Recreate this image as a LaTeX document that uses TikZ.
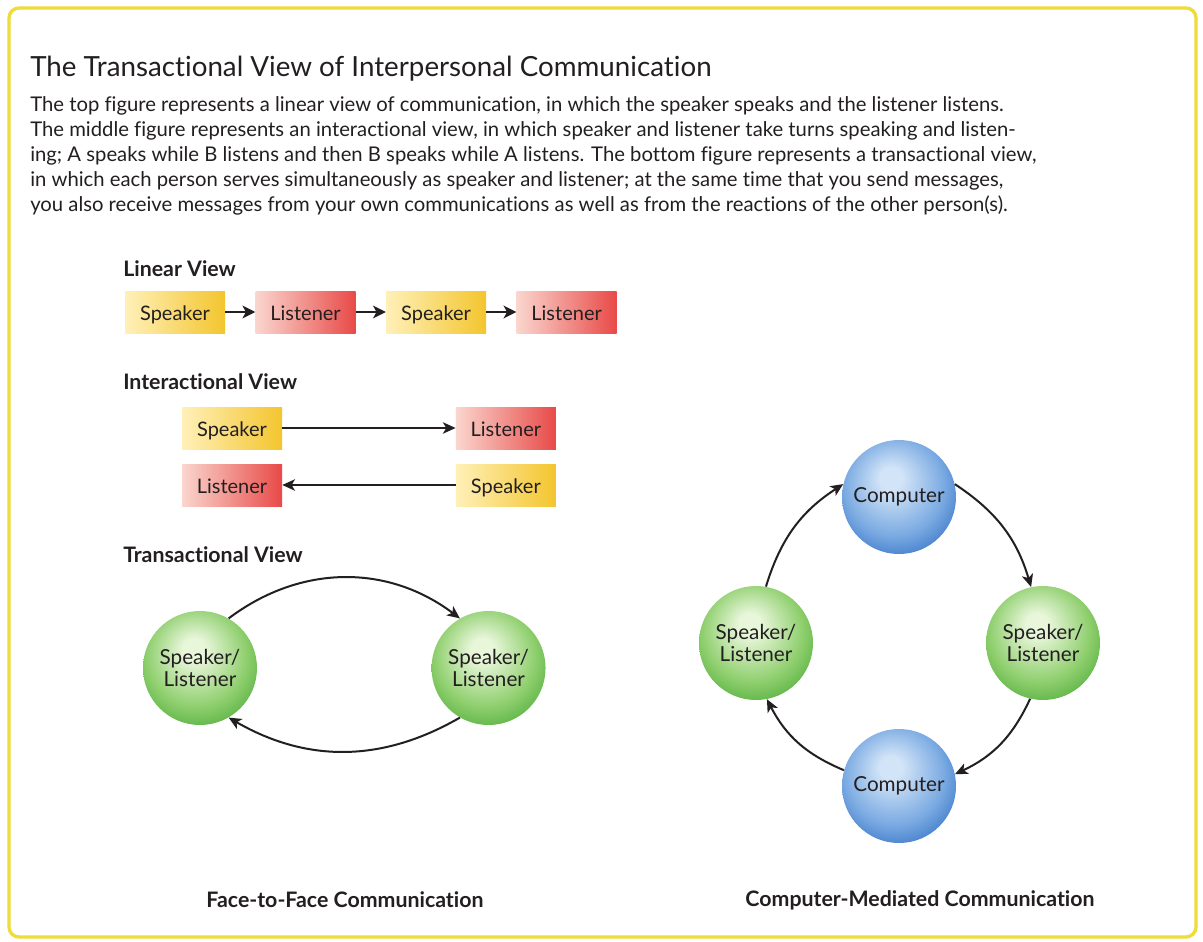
\documentclass[tikz,border=0pt]{standalone}
\usepackage{fontspec}
\setmainfont{Lato}[Ligatures=NoCommon]
\usepackage{tikz}
\usetikzlibrary{positioning}
\usetikzlibrary{arrows.meta}

\definecolor{ink}{HTML}{231F20}
\definecolor{framey}{HTML}{EEDC3A}
\definecolor{spklight}{HTML}{FFF0B8}
\definecolor{spkdark}{HTML}{F3C52E}
\definecolor{lislight}{HTML}{FAD6CE}
\definecolor{lisdark}{HTML}{E84A48}
\definecolor{greenhi}{HTML}{E8F6DA}
\definecolor{greenmid}{HTML}{8FCF6E}
\definecolor{greendark}{HTML}{56B040}
\definecolor{bluehi}{HTML}{D2E4F7}
\definecolor{bluemid}{HTML}{7AAAE2}
\definecolor{bluedark}{HTML}{3D78C8}

% shaded balls, light spot a little above the middle
\pgfdeclareradialshading{greenball}{\pgfpoint{-3bp}{9bp}}{color(0bp)=(greenhi); color(5bp)=(greenhi); color(22bp)=(greenmid); color(32bp)=(greendark); color(50bp)=(greendark)}
\pgfdeclareradialshading{blueball}{\pgfpoint{-4bp}{9bp}}{color(0bp)=(bluehi); color(5bp)=(bluehi); color(22bp)=(bluemid); color(32bp)=(bluedark); color(50bp)=(bluedark)}

\begin{document}
\begin{tikzpicture}[x=0.75pt, y=0.75pt,
every node/.append style={text=ink},
speaker/.style={rectangle, minimum width=75pt, minimum height=31.5pt, inner sep=0pt, text height=13pt, text depth=0pt, left color=spklight, right color=spkdark, font=\fontsize{15}{17}\selectfont},
listener/.style={rectangle, minimum width=75pt, minimum height=31.5pt, inner sep=0pt, text height=13pt, text depth=0pt, left color=lislight, right color=lisdark, font=\fontsize{15}{17}\selectfont},
person/.style={circle, minimum size=85.5pt, inner sep=0pt, shading=greenball, align=center, font=\fontsize{15.5}{17}\selectfont},
computer/.style={circle, minimum size=85.5pt, inner sep=0pt, shading=blueball, font=\fontsize{15.5}{17}\selectfont},
viewlabel/.style={anchor=base west, inner sep=0pt, font=\fontsize{16}{18}\selectfont\bfseries},
caption/.style={inner sep=0pt, font=\fontsize{16}{18}\selectfont\bfseries},
flow/.style={-{Stealth[length=9.5pt,width=9.5pt,inset=2.5pt]}, line width=1.8pt, draw=ink},
turn/.style={-{Stealth[length=9.5pt,width=8.5pt,inset=2.5pt]}, line width=1.5pt, draw=ink},
]
\useasboundingbox[fill=white] (0,0) rectangle (1203,-942);
\draw[framey, line width=2.5pt, rounded corners=7.5pt] (9,-8) rectangle (1196,-937);

%Heading and text
\node[anchor=base west, inner sep=0pt, font=\fontsize{20.8}{24}\selectfont] (title) at (30,-77)
  {The Transactional View of Interpersonal Communication};
\node[anchor=north west, inner sep=0pt, align=left, font=\fontsize{15.2}{18.75}\selectfont] (intro) at (30,-96)
  {The top figure represents a linear view of communication, in which the speaker speaks and the listener listens.\\
   The middle figure represents an interactional view, in which speaker and listener take turns speaking and listen-\\
   ing; A speaks while B listens and then B speaks while A listens. The bottom figure represents a transactional view,\\
   in which each person serves simultaneously as speaker and listener; at the same time that you send messages,\\
   you also receive messages from your own communications as well as from the reactions of the other person(s).};

%Linear view
\node[viewlabel] (linear) at (123,-276) {Linear View};
\node[speaker]  (spk1)                        at (175,-312) {Speaker};
\node[listener] (lis1) [right=22.5pt of spk1] {Listener};
\node[speaker]  (spk2) [right=22.5pt of lis1] {Speaker};
\node[listener] (lis2) [right=22.5pt of spk2] {Listener};
\draw[flow] (spk1) -- (lis1);
\draw[flow] (lis1) -- (spk2);
\draw[flow] (spk2) -- (lis2);

%Interactional view
\node[viewlabel] (inter) at (123,-389) {Interactional View};
\node[speaker]  (spk3)                       at (232,-428) {Speaker};
\node[listener] (lis3) [right=130pt of spk3] {Listener};
\node[listener] (lis4)                       at (232,-485) {Listener};
\node[speaker]  (spk4) [right=130pt of lis4] {Speaker};
\draw[turn] (spk3) -- (lis3);
\draw[turn] (spk4) -- (lis4);

%Transactional view, face to face
\node[viewlabel] (trans) at (123,-562) {Transactional View};
\node[person] (sl1)                          at (200,-668) {Speaker/\\Listener};
\node[person] (sl2) [right=130.5pt of sl1] {Speaker/\\Listener};
\draw[turn] (sl1.60) to[bend left=37] (sl2.120);
\draw[turn] (sl2.-120) to[bend left=30] (sl1.-60);

%Computer-mediated ring
\node[computer] (pc1) at (899,-497)  {Computer};
\node[person]   (sl3) at (756,-643)  {Speaker/\\Listener};
\node[person]   (sl4) at (1043,-643) {Speaker/\\Listener};
\node[computer] (pc2) at (899,-786)  {Computer};
\draw[turn] (sl3.80)   to[bend left=20] (pc1.167);
\draw[turn] (pc1.13)   to[bend left=20] (sl4.102);
\draw[turn] (sl4.-103) to[bend left=20] (pc2.12);
\draw[turn] (pc2.164)  to[bend left=20] (sl3.-79);

%Captions
\node[caption] (ftf) at (345,-900) {Face-to-Face Communication};
\node[caption] (cmc) at (920,-900) {Computer-Mediated Communication};
\end{tikzpicture}
\end{document}
